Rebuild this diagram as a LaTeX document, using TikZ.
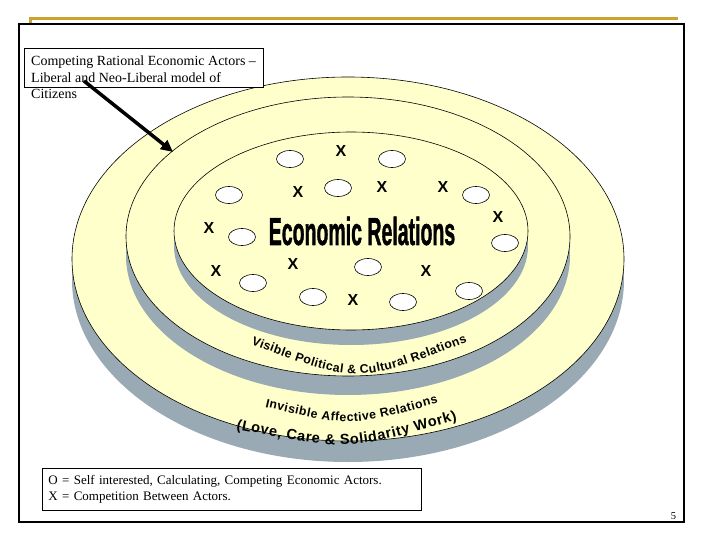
\documentclass[tikz,border=0pt]{standalone}
\usepackage{fontspec}
\setmainfont{Liberation Serif}
\newfontfamily\arialbf{Liberation Sans Bold}
\newfontfamily\econfont[FakeBold=1.6]{Liberation Sans Bold}
\usetikzlibrary{arrows.meta,shapes.geometric,decorations.text}

\definecolor{discyellow}{RGB}{255,255,204}
\definecolor{discshadow}{RGB}{153,170,180}
\definecolor{slidegold}{RGB}{204,163,51}

\newcommand*\curvefont{\arialbf\fontsize{12.3}{13}\selectfont}
\newcommand*\lovefont{\arialbf\fontsize{14.5}{15}\selectfont}
\tikzset{
    disc/.style={fill=discyellow, draw=black, line width=0.6pt},
    actor/.style={
        shape=ellipse,
        draw,
        fill=white,
        line width=0.6pt,
        inner sep=0pt,
        minimum width=27pt,
        minimum height=17pt
    },
    rival/.style={font=\arialbf\fontsize{16}{16}\selectfont, inner sep=0pt},
    curved/.style={decorate, decoration={text along path, text align=fit to path}},
    plainbox/.style={draw, fill=white, line width=0.8pt, anchor=north west}
}

\begin{document}
\begin{tikzpicture}[x=1pt,y=-1pt]
    \useasboundingbox (0,0) rectangle (720,540);

    % First the three discs, each on its own shadow.
    \foreach \cx/\cy/\rx/\ry/\dy in {348/259/276/182/21,348/236.5/222/139.5/19,351/231/177/99/15} {
        \fill[discshadow] (\cx,\cy+\dy) ellipse [x radius=\rx, y radius=\ry];
        \path[disc] (\cx,\cy) ellipse [x radius=\rx, y radius=\ry];
    }

    % The actors (O) and the competition between them (X).
    \foreach \px/\py [count=\i] in {290/159,392/159,229/195,338/188,476/195,242/237,505/243,368/267,253/283,313/297,403/302,469/291}
        \node[actor] (o\i) at (\px,\py) {};

    \foreach \px/\py [count=\i] in {341/151,298/192,382/187,443/187,498/217,209/228,216/271,293/264,426/271,353/300}
        \node[rival] (x\i) at (\px,\py) {X};

    \node[inner sep=0pt] (econ) at (362,231)
        {\scalebox{0.5}[1]{\econfont\fontsize{39}{39}\selectfont Economic Relations}};

    % Labels that bend with the rings.
    \path[curved, decoration={text={|\curvefont|Visible Political {\&} Cultural Relations}}]
        (251,344) .. controls (357,384) .. (467,342);
    \path[curved, decoration={text={|\curvefont|Invisible Affective Relations}}]
        (265,407) .. controls (351,427) .. (438,403);
    \path[curved, decoration={text={|\lovefont|(Love, Care {\&} Solidarity Work)}}]
        (236,429) .. controls (346,451) .. (457,420);

    % Callout in the top left corner.
    \node[plainbox, minimum width=239pt, minimum height=39pt, inner sep=0pt] (calloutbox) at (24,48) {};
    \node[anchor=north west, inner sep=0pt, align=left, font=\fontsize{14}{16.5}\selectfont] (callout) at (31,56)
        {Competing Rational Economic Actors --\\Liberal and Neo-Liberal model of\\Citizens};
    \coordinate (calloutfoot) at (84,81);
    \coordinate (calloutpoint) at (173,152);
    \draw[line width=3.5pt, -{Triangle[length=12pt,width=11pt]}] (calloutfoot) -- (calloutpoint);

    % Key.
    \node[plainbox, minimum width=379pt, minimum height=42pt, text width=367pt, inner xsep=6pt,
        align=left, font=\fontsize{13}{16.5}\selectfont] (legend) at (42,468)
        {O = Self interested, Calculating, Competing Economic Actors.\\X = Competition Between Actors.};

    % Slide frame and page number.
    \draw[slidegold, line width=3pt] (30.5,24) -- (30.5,18.5) -- (678,18.5);
    \draw[line width=1.4pt] (19,24) rectangle (684,522);
    \node[font=\fontsize{10.5}{12}\selectfont, inner sep=0pt] (pagenum) at (673.5,516.5) {5};
\end{tikzpicture}
\end{document}
